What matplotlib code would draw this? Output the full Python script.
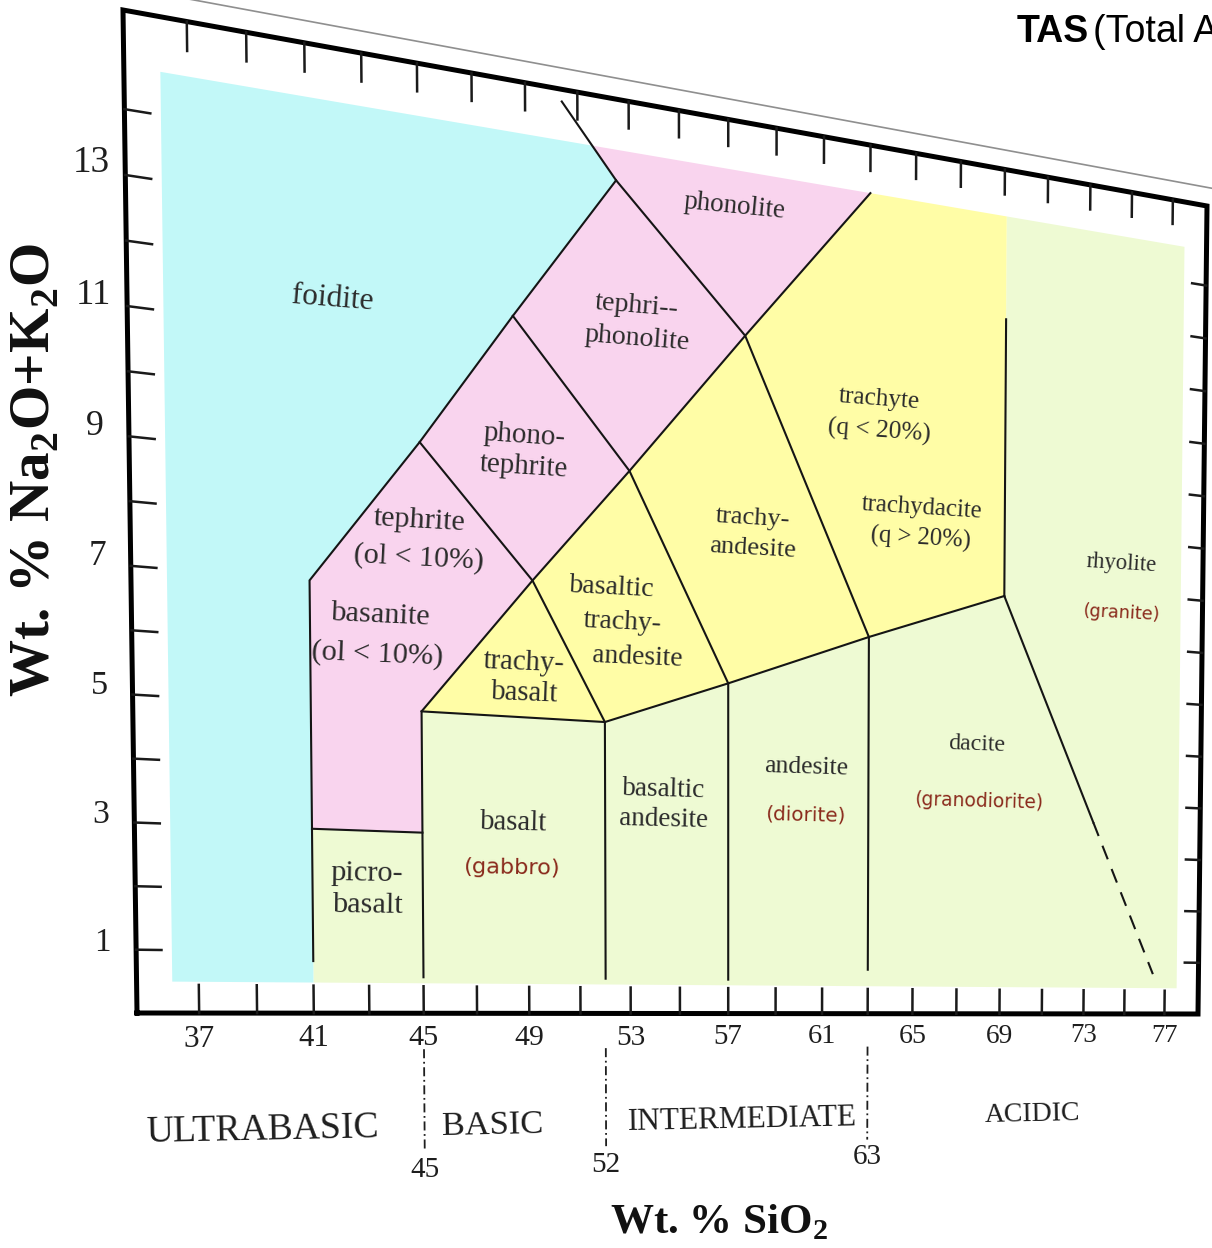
import numpy as np
import matplotlib
matplotlib.use("Agg")
import matplotlib.pyplot as plt
import matplotlib.transforms as mtransforms
from matplotlib.lines import Line2D
from matplotlib.patches import Polygon

plt.rcParams['mathtext.fontset'] = 'custom'
plt.rcParams['mathtext.rm'] = 'Liberation Serif'
plt.rcParams['mathtext.bf'] = 'Liberation Serif:bold'

# ---------------- data ----------------
x_range = [34.9, 78.7]            # SiO2 extent of the frame
y_range = [0.0, 15.5]             # Na2O + K2O extent of the frame
x_tick_values = [37, 39, 41, 43, 45, 47, 49, 51, 53, 55, 57, 59, 61, 63, 65, 67, 69, 71, 73, 75, 77]
x_tick_labels = [37, 41, 45, 49, 53, 57, 61, 65, 69, 73, 77]
y_tick_values = [1, 2, 3, 4, 5, 6, 7, 8, 9, 10, 11, 12, 13, 14]
y_tick_labels = [1, 3, 5, 7, 9, 11, 13]

# boundary lines of the classification fields
foidite_boundary = [(41, 0.85), (41, 7), (45, 9.4), (48.5, 11.65), (52.5, 14.15), (50.4, 15.3)]
picrobasalt_top = [(41, 3), (45, 3)]
subalkaline_top = [(45, 0.6), (45, 5), (52, 5), (57, 5.8), (63, 6.8), (69.1, 7.75)]
basalt_right = [(52, 0.6), (52, 5)]
bas_andesite_right = [(57, 0.6), (57, 5.8)]
andesite_right = [(63, 0.8), (63, 6.8)]
alkaline_divide = [(45, 5), (49.2, 7.3), (53, 9.3), (57.7, 11.85), (63, 14.66)]
tephrite_line = [(45, 9.4), (49.2, 7.3), (52, 5)]
phonotephrite_line = [(48.5, 11.65), (53, 9.3), (57, 5.8)]
tephriphonolite_line = [(52.5, 14.15), (57.7, 11.85), (63, 6.8)]
trachyte_right = [(69.1, 7.75), (69.1, 12.8)]
rhyolite_solid = [(69.1, 7.75), (73.4, 3.64)]
rhyolite_dashed = [(73.4, 3.64), (76.4, 0.77)]

# coloured fields
cyan_field = [(36.1, 0.5), (41, 0.5), (41, 7), (45, 9.4), (48.5, 11.65), (52.5, 14.15),
              (51.57, 14.66), (36.1, 14.66)]
pink_field = [(41, 3), (41, 7), (45, 9.4), (48.5, 11.65), (52.5, 14.15), (51.57, 14.66),
              (63, 14.66), (57.7, 11.85), (53, 9.3), (49.2, 7.3), (45, 5), (45, 3)]
yellow_field = [(45, 5), (49.2, 7.3), (53, 9.3), (57.7, 11.85), (63, 14.66), (69.1, 14.66),
                (69.1, 7.75), (63, 6.8), (57, 5.8), (52, 5)]
green_field = [(41, 0.5), (77.6, 0.5), (77.6, 14.66), (69.1, 14.66), (69.1, 7.75), (63, 6.8),
               (57, 5.8), (52, 5), (45, 5), (45, 3), (41, 3)]

# field names (volcanic)
rock_names = ["foidite", "phonolite", "tephri--", "phonolite", "phono-", "tephrite",
              "tephrite", "(ol < 10%)", "basanite", "(ol < 10%)", "trachy-", "basalt",
              "basaltic", "trachy-", "andesite", "trachy-", "andesite", "trachyte",
              "(q < 20%)", "trachydacite", "(q > 20%)", "rhyolite", "dacite", "andesite",
              "basaltic", "andesite", "basalt", "picro-", "basalt"]
rock_x = [41.9, 57.25, 53.3, 53.3, 48.9, 48.9, 44.95, 44.95, 43.5, 43.4, 48.85, 48.85,
          52.3, 52.7, 53.3, 58.0, 58.0, 63.4, 63.4, 65.3, 65.3, 74.65, 67.85, 60.3,
          54.35, 54.35, 48.4, 42.95, 42.95]
rock_y = [11.53, 14.03, 12.1, 11.55, 9.7, 9.18, 8.12, 7.52, 6.53, 5.89, 5.91, 5.41,
          7.30, 6.71, 6.14, 8.70, 8.18, 11.06, 10.48, 9.21, 8.65, 8.55, 4.98, 4.41,
          3.90, 3.38, 3.22, 2.29, 1.77]

# plutonic equivalents
pluton_names = ["(granite)", "(granodiorite)", "(diorite)", "(gabbro)"]
pluton_x = [74.68, 68.0, 60.27, 48.35]
pluton_y = [7.63, 3.95, 3.55, 2.46]

# silica classes under the axis
class_names = ["ULTRABASIC", "BASIC", "INTERMEDIATE", "ACIDIC"]
class_x = [39.15, 47.57, 57.61, 70.61]
class_limits = [45, 52, 63]

# ---------------- figure and perspective transform ----------------
W, H = 1212, 1248
fig = plt.figure(figsize=(W / 100, H / 100), dpi=100, facecolor="white")
ax = fig.add_axes([0, 0, 1, 1])
ax.set_axis_off()
ax.set_xlim(*x_range)
ax.set_ylim(*y_range)
ax.set_autoscale_on(False)

frame_corners_px = [(137, 1013), (1198, 1014), (1207, 206), (123, 10)]


def square_to_quad(quad):
    A, b = [], []
    for (s, t), (u, v) in zip([(0, 0), (1, 0), (1, 1), (0, 1)], quad):
        A.append([s, t, 1, 0, 0, 0, -u * s, -u * t]); b.append(u)
        A.append([0, 0, 0, s, t, 1, -v * s, -v * t]); b.append(v)
    h = np.linalg.solve(np.array(A, float), np.array(b, float))
    return np.append(h, 1.0).reshape(3, 3)


class Projective(mtransforms.Transform):
    input_dims = 2
    output_dims = 2
    is_separable = False
    has_inverse = True

    def __init__(self, M):
        super().__init__()
        self.M = np.asarray(M, float)

    def transform_non_affine(self, values):
        v = np.asarray(values, float)
        flat = v.reshape(-1, 2)
        p = flat @ self.M[:, :2].T + self.M[:, 2]
        out = p[:, :2] / p[:, 2:3]
        return out.reshape(v.shape)

    def inverted(self):
        return Projective(np.linalg.inv(self.M))


quad = [(px / W, 1 - py / H) for px, py in frame_corners_px]
T = ax.transScale + ax.transLimits + Projective(square_to_quad(quad)) + fig.transFigure


def local(x, y, d=0.25):
    p0 = T.transform((x, y))
    p1 = T.transform((x + d, y))
    v = (p1 - p0) / d
    return np.hypot(v[0], v[1]), np.degrees(np.arctan2(v[1], v[0]))


def pline(pts, **kw):
    xs, ys = zip(*pts)
    ax.add_artist(Line2D(xs, ys, transform=T, clip_on=False, **kw))


def pfill(pts, color):
    ax.add_artist(Polygon(pts, closed=True, transform=T, facecolor=color,
                          edgecolor="none", clip_on=False, zorder=1))


def ptext(x, y, s, k, family, color="#2b2b2b", weight="normal", rot=0.6, size=None, **kw):
    xs, ang = local(x, y)
    fs = size if size is not None else k * xs * 72 / fig.dpi
    ax.text(x, y, s, transform=T, fontsize=fs, rotation=rot * ang,
            rotation_mode="anchor", ha="center", va="center", family=family,
            color=color, fontweight=weight, zorder=6, **kw)


SERIF = ["Liberation Serif", "DejaVu Serif"]
SANS = ["DejaVu Sans"]

# coloured fields
pfill(green_field, "#EEFAD3")
pfill(cyan_field, "#C2F8F8")
pfill(pink_field, "#F9D4EE")
pfill(yellow_field, "#FFFDA6")

# boundaries
lk = dict(color="#151515", lw=1.5, zorder=3, solid_joinstyle="miter")
for pts in [foidite_boundary, picrobasalt_top, subalkaline_top, basalt_right,
            bas_andesite_right, andesite_right, alkaline_divide, tephrite_line,
            phonotephrite_line, tephriphonolite_line, trachyte_right, rhyolite_solid]:
    pline(pts, **lk)
pline(rhyolite_dashed, color="#151515", lw=1.5, zorder=3, linestyle=(0, (7, 5)))

# frame
x0, x1 = x_range
y0, y1 = y_range
pline([(x0, y0), (x1, y0), (x1, y1), (x0, y1), (x0, y0)], color="black", lw=3.6,
      zorder=4, solid_joinstyle="miter")
# paper edge line above the frame
pline([(33.0, 15.85), (81.0, 15.85)], color="#8f8f8f", lw=1.2, zorder=2)

# ticks
tk = dict(color="#1a1a1a", lw=1.8, zorder=4)
for xv in x_tick_values:
    pline([(xv, y0), (xv, y0 + 0.45)], **tk)
    pline([(xv, y1), (xv, y1 - 0.45)], **tk)
for yv in y_tick_values:
    pline([(x0, yv), (x0 + 0.85, yv)], **tk)
    pline([(x1, yv), (x1 - 0.7, yv)], **tk)

# tick labels
for xv in x_tick_labels:
    ptext(xv, -0.42, str(xv), 0, SERIF, color="#1e1e1e", rot=0,
          size=22.5 - 3.5 * (xv - 37) / 40)
for yv in y_tick_labels:
    ptext(x0 - 1.1, yv + 0.1, str(yv), 0, SERIF, color="#1e1e1e", rot=0,
          size=23.5 + 0.25 * yv)

# field names
for s, xv, yv in zip(rock_names, rock_x, rock_y):
    ptext(xv, yv, s, 1.1, SERIF)
for s, xv, yv in zip(pluton_names, pluton_x, pluton_y):
    ptext(xv, yv, s, 0.86, SANS, color="#8a2a1c")

# silica classes
for s, xv in zip(class_names, class_x):
    ptext(xv, -1.9, s, 1.32, SERIF, color="#1e1e1e", rot=1.0)
for xv in class_limits:
    pline([(xv, -0.6), (xv, -2.3)], color="#1e1e1e", lw=1.3, zorder=3,
          linestyle=(0, (5, 2, 1, 2)))
    ptext(xv, -2.62, str(xv), 0, SERIF, color="#1e1e1e", rot=0, size=21)

# axis titles
fig.text(36 / W, 1 - 470 / H, r"Wt. % Na$_\mathbf{2}$O+K$_\mathbf{2}$O", rotation=90,
         fontsize=41, fontweight="bold", family=SERIF, ha="center", va="center",
         color="#111111")
fig.text(719 / W, 1 - 1222 / H, r"Wt. % SiO$_\mathbf{2}$", fontsize=31,
         fontweight="bold", family=SERIF, ha="center", va="center", color="#111111")

# header text (cut by the right edge, as in the picture)
NARROW = ["Liberation Sans Narrow", "Liberation Sans", "DejaVu Sans"]
fig.text(1017 / W, 1 - 42 / H, "TAS", fontsize=27, fontweight="bold", family=NARROW,
         ha="left", va="baseline", color="black")
fig.text(1093 / W, 1 - 42 / H, "(Total Alkali Silica)", fontsize=27, family=NARROW,
         ha="left", va="baseline", color="black")

fig.savefig("out.png", dpi=100, facecolor="white")
